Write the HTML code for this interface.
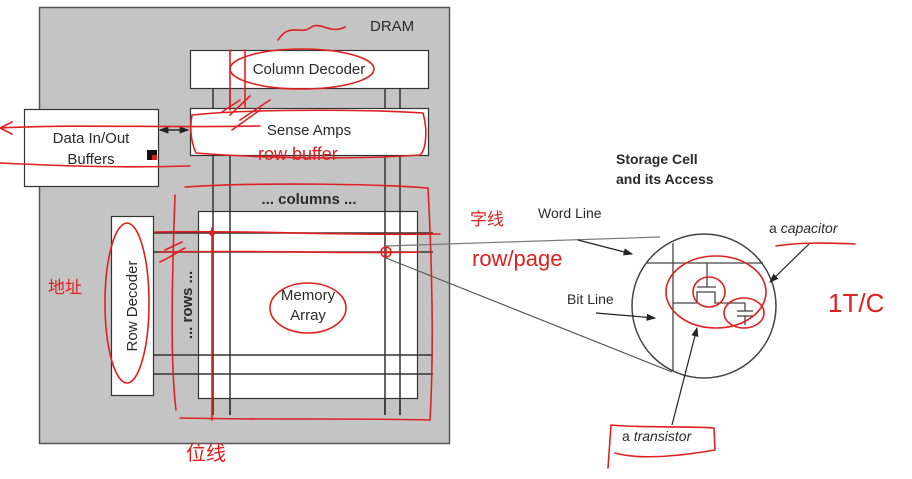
<!DOCTYPE html>
<html><head><meta charset="utf-8"><style>
html,body{margin:0;padding:0;background:#fff;width:912px;height:479px;overflow:hidden}
svg{display:block}
text{font-family:"Liberation Sans",Arial,sans-serif;fill:#2a2a2a}
.r{fill:none;stroke:#e02020;stroke-width:1.6;stroke-linecap:round;stroke-linejoin:round}
.hw{font-family:"Liberation Sans","Noto Sans CJK SC",sans-serif;fill:#e02020}
</style></head><body>
<svg width="912" height="479" viewBox="0 0 912 479" xmlns="http://www.w3.org/2000/svg">
<defs><marker id="a" markerWidth="8" markerHeight="8" refX="7" refY="4" orient="auto"><path d="M0,1 L8,4 L0,7z" fill="#222"/></marker></defs>
<rect x="39.5" y="7.5" width="410" height="436" fill="#c4c4c4" stroke="#555" stroke-width="1.5"/>
<text x="370" y="31" font-size="15">DRAM</text>
<g stroke="#333" stroke-width="1.5">
<line x1="213" y1="88" x2="213" y2="415"/><line x1="230" y1="88" x2="230" y2="415"/>
<line x1="385" y1="88" x2="385" y2="415"/><line x1="400" y1="88" x2="400" y2="415"/>
</g>
<rect x="190.5" y="50.5" width="238" height="38" fill="#fff" stroke="#333" stroke-width="1.2"/>
<text x="309" y="74" font-size="15" text-anchor="middle">Column Decoder</text>
<rect x="190.5" y="108.5" width="238" height="47" fill="#fff" stroke="#333" stroke-width="1.2"/>
<text x="309" y="135" font-size="15" text-anchor="middle">Sense Amps</text>
<rect x="24.5" y="109.5" width="134" height="77" fill="#fff" stroke="#333" stroke-width="1.2"/>
<text x="91" y="143" font-size="15" text-anchor="middle">Data In/Out</text>
<text x="91" y="164" font-size="15" text-anchor="middle">Buffers</text>
<rect x="147" y="150" width="10" height="10" fill="#111"/><rect x="152" y="155" width="5" height="5" fill="#e02020"/>
<line x1="160" y1="130" x2="188" y2="130" stroke="#222" stroke-width="1.2" marker-end="url(#a)"/>
<line x1="188" y1="130" x2="160" y2="130" stroke="#222" stroke-width="1.2" marker-end="url(#a)"/>
<text x="309" y="204" font-size="15" font-weight="bold" text-anchor="middle">... columns ...</text>
<rect x="198.5" y="211.5" width="219" height="187" fill="#fff" stroke="#333" stroke-width="1.2"/>
<g stroke="#333" stroke-width="1.5">
<line x1="213" y1="211" x2="213" y2="415"/><line x1="230" y1="211" x2="230" y2="415"/>
<line x1="385" y1="211" x2="385" y2="415"/><line x1="400" y1="211" x2="400" y2="415"/>
<line x1="153" y1="233" x2="433" y2="233"/><line x1="153" y1="252" x2="433" y2="252"/>
<line x1="153" y1="355" x2="433" y2="355"/><line x1="153" y1="374" x2="433" y2="374"/>
</g>
<text x="308" y="300" font-size="15" text-anchor="middle">Memory</text>
<text x="308" y="320" font-size="15" text-anchor="middle">Array</text>
<rect x="111.5" y="216.5" width="42" height="179" fill="#fff" stroke="#333" stroke-width="1.2"/>
<text transform="translate(137,306) rotate(-90)" font-size="15" text-anchor="middle">Row Decoder</text>
<text transform="translate(192,305) rotate(-90)" font-size="15" font-weight="bold" text-anchor="middle">... rows ...</text>
<line x1="386" y1="246" x2="660" y2="237" stroke="#777" stroke-width="1.2"/>
<line x1="386" y1="258" x2="672" y2="372" stroke="#555" stroke-width="1.2"/>
<text x="616" y="164" font-size="14" font-weight="bold">Storage Cell</text>
<text x="616" y="184" font-size="14" font-weight="bold">and its Access</text>
<text x="538" y="218" font-size="14">Word Line</text>
<text x="567" y="304" font-size="14">Bit Line</text>
<text x="769" y="233" font-size="14">a <tspan font-style="italic">capacitor</tspan></text>
<circle cx="704" cy="306" r="72" fill="#fff" stroke="#444" stroke-width="1.5"/>
<g stroke="#444" stroke-width="1.3" fill="none">
<line x1="647" y1="263" x2="763" y2="263"/>
<line x1="673" y1="243" x2="673" y2="371"/>
<line x1="673" y1="303" x2="697" y2="303"/>
<path d="M697,303 V292 H715 V303 H745"/>
<line x1="697" y1="287" x2="716" y2="287"/>
<line x1="707" y1="263" x2="707" y2="287"/>
<line x1="745" y1="303" x2="745" y2="311"/>
<line x1="737" y1="311" x2="753" y2="311"/><line x1="737" y1="316" x2="753" y2="316"/>
<line x1="745" y1="316" x2="745" y2="325"/>
</g>
<line x1="578" y1="240" x2="632" y2="254" stroke="#222" stroke-width="1.2" marker-end="url(#a)"/>
<line x1="596" y1="313" x2="655" y2="318" stroke="#222" stroke-width="1.2" marker-end="url(#a)"/>
<line x1="810" y1="243" x2="770" y2="282" stroke="#222" stroke-width="1.2" marker-end="url(#a)"/>
<line x1="672" y1="425" x2="697" y2="328" stroke="#222" stroke-width="1.2" marker-end="url(#a)"/>
<text x="622" y="441" font-size="14">a <tspan font-style="italic">transistor</tspan></text>
<path class="r" d="M615,453 C640,460 680,456 715,450 L714,428 C690,426 640,428 611,425 L608,468"/>
<path class="r" d="M776,246 C800,242 830,243 855,244"/>
<ellipse class="r" cx="716" cy="292" rx="50" ry="36"/>
<ellipse class="r" cx="744" cy="313" rx="20" ry="15"/>
<ellipse class="r" cx="709" cy="292" rx="16" ry="15"/>
<text class="hw" x="828" y="312" font-size="26">1T/C</text>
<path class="r" d="M0,128 C80,124 160,128 260,126 M0,128 L12,122 M0,128 L12,134 M0,163 C60,166 120,168 190,166"/>
<path class="r" d="M192,115 C260,108 380,110 423,113 C428,130 426,150 420,155 C350,160 260,158 196,153 C190,140 190,125 192,115"/>
<ellipse class="r" cx="302" cy="69" rx="72" ry="20"/>
<path class="r" d="M230,50 V110 M245,50 V108 M222,112 L240,100 M230,115 L250,96 M232,130 L260,110 M240,120 L270,100"/>
<path class="r" d="M278,40 C290,22 300,35 310,28 C320,20 330,35 345,27"/>
<text class="hw" x="258" y="160" font-size="18">row buffer</text>
<path class="r" d="M185,187 C260,182 380,184 428,188 C432,260 434,350 430,420 C360,418 260,420 180,418"/>
<path class="r" d="M175,195 C172,280 170,360 176,410"/>
<path class="r" d="M212,228 V420"/>
<circle cx="212" cy="233" r="3" fill="#e02020"/>
<path class="r" d="M155,232 C250,230 350,236 440,234 M160,252 C260,250 350,254 420,252"/>
<circle class="r" cx="386" cy="252" r="5"/>
<path class="r" d="M382,252 H390 M386,248 V256"/>
<ellipse class="r" cx="127" cy="303" rx="22" ry="80"/>
<ellipse class="r" cx="308" cy="308" rx="38" ry="25"/>
<path class="r" d="M165,250 L182,242 M160,262 C175,255 180,250 185,248"/>
<text class="hw" x="470" y="225" font-size="17">字线</text>
<text class="hw" x="472" y="266" font-size="22">row/page</text>
<text class="hw" x="48" y="293" font-size="17">地址</text>
<text class="hw" x="186" y="460" font-size="20">位线</text>
</svg>
</body></html>
